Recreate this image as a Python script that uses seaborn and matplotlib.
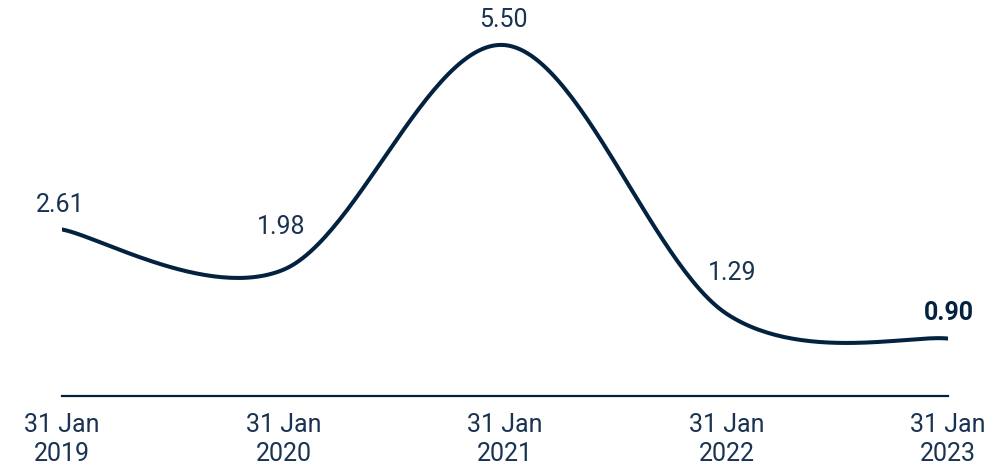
import numpy as np
import pandas as pd
import matplotlib
matplotlib.use("Agg")
import matplotlib.pyplot as plt
import seaborn as sns

# ---- data ----
dates = ["31 Jan\n2019", "31 Jan\n2020", "31 Jan\n2021", "31 Jan\n2022", "31 Jan\n2023"]
values = [2.61, 1.98, 5.50, 1.29, 0.90]
labels = ["2.61", "1.98", "5.50", "1.29", "0.90"]

# ---- style ----
LINE = "#03223f"
TEXT = "#1a3352"
sns.set_style("white")
plt.rcParams["font.family"] = ["Roboto", "DejaVu Sans"]

# label offsets in points (dx, dy)
offsets = [(-1, 17.5), (-1.5, 31), (-1, 18), (4.3, 29), (0.3, 18.4)]


def catmull_rom(xs, ys, n=60):
    """Uniform Catmull-Rom spline through the points (ends duplicated)."""
    px = np.concatenate([[xs[0]], xs, [xs[-1]]])
    py = np.concatenate([[ys[0]], ys, [ys[-1]]])
    t = np.linspace(0, 1, n)
    cx, cy = [], []
    for i in range(1, len(px) - 2):
        p0 = np.array([px[i], py[i]])
        p3 = np.array([px[i + 1], py[i + 1]])
        p1 = p0 + (np.array([px[i + 1], py[i + 1]]) - np.array([px[i - 1], py[i - 1]])) / 6
        p2 = p3 - (np.array([px[i + 2], py[i + 2]]) - np.array([px[i], py[i]])) / 6
        b = ((1 - t) ** 3)[:, None] * p0 + (3 * (1 - t) ** 2 * t)[:, None] * p1 \
            + (3 * (1 - t) * t ** 2)[:, None] * p2 + (t ** 3)[:, None] * p3
        if i > 1:
            b = b[1:]
        cx.extend(b[:, 0]); cy.extend(b[:, 1])
    return np.array(cx), np.array(cy)


xpos = np.arange(len(values), dtype=float)
cx, cy = catmull_rom(xpos, np.array(values))
curve = pd.DataFrame({"x": cx, "y": cy})

fig = plt.figure(figsize=(10.05, 4.72), dpi=100)
ax = fig.add_axes([62 / 1005, (472 - 396) / 472, 886 / 1005, 396 / 472])

sns.lineplot(data=curve, x="x", y="y", sort=False, estimator=None,
             color=LINE, linewidth=2.9, ax=ax, solid_capstyle="round")

ax.set_xlim(0, len(values) - 1)
ax.set_ylim(0, 396 / 63.8)

for i, (v, lab) in enumerate(zip(values, labels)):
    last = i == len(values) - 1
    ax.annotate(lab, (xpos[i], v), xytext=offsets[i], textcoords="offset points",
                ha="center", va="center", fontsize=18, color=LINE if last else TEXT,
                fontweight="bold" if last else "normal", annotation_clip=False)

ax.set_xticks(xpos)
ax.set_xticklabels(dates, fontsize=18, color=TEXT, linespacing=1.3)
ax.tick_params(axis="x", length=0, pad=12)
ax.set_yticks([])
ax.set_xlabel("")
ax.set_ylabel("")
for s in ["top", "left", "right"]:
    ax.spines[s].set_visible(False)
ax.spines["bottom"].set_color(LINE)
ax.spines["bottom"].set_linewidth(1.6)
ax.patch.set_alpha(0)

fig.savefig("out.png", dpi=100)
